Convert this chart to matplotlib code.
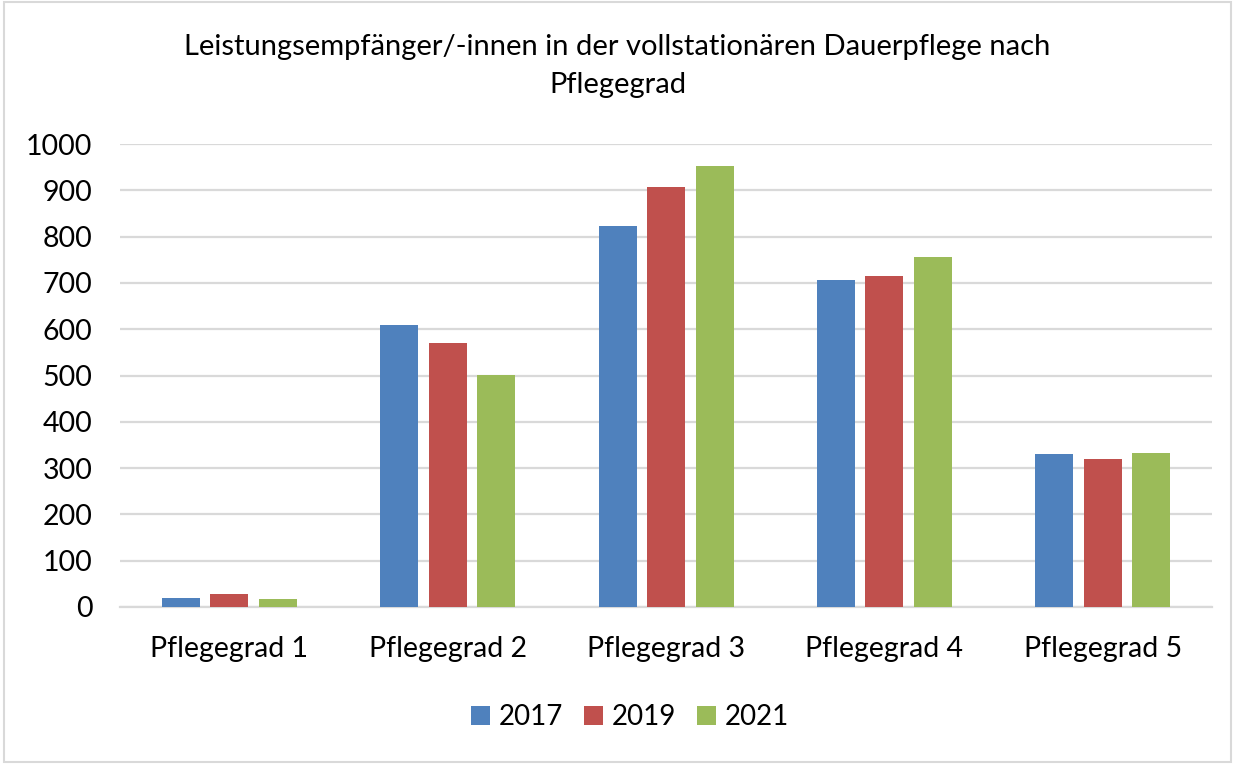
import matplotlib.pyplot as plt
import matplotlib.patches as mpatches
import numpy as np

categories = ['Pflegegrad 1', 'Pflegegrad 2', 'Pflegegrad 3', 'Pflegegrad 4', 'Pflegegrad 5']
years = ['2017', '2019', '2021']
v2017 = [19, 609, 823, 706, 330]
v2019 = [28, 570, 907, 715, 320]
v2021 = [17, 502, 953, 757, 332]
colors = ['#4f81bd', '#c0504d', '#9bbb59']

plt.rcParams['font.family'] = ['Lato', 'DejaVu Sans']

fig = plt.figure(figsize=(12.35, 7.64), dpi=100)
ax = fig.add_axes([0.0972, 0.2055, 0.8842, 0.606])

x = np.arange(len(categories))
width = 0.174
step = 0.222
for i, (vals, yr) in enumerate(zip([v2017, v2019, v2021], years)):
    ax.bar(x + (i - 1) * step, vals, width, color=colors[i], label=yr, zorder=3)

ax.set_xlim(-0.5, len(categories) - 0.5)
ax.set_ylim(0, 1000)
ax.set_yticks(range(0, 1001, 100))
ax.set_xticks(x)
ax.set_xticklabels(categories)
ax.tick_params(axis='both', length=0, labelsize=20.5, colors='#000000')
ax.tick_params(axis='x', pad=21)
ax.tick_params(axis='y', pad=20)
ax.grid(axis='y', color='#d9d9d9', linewidth=1.6, zorder=0)
for s in ['top', 'right', 'left']:
    ax.spines[s].set_visible(False)
ax.spines['bottom'].set_color('#d9d9d9')
ax.spines['bottom'].set_linewidth(1.6)

fig.text(0.5, 0.9136, 'Leistungsempfänger/-innen in der vollstationären Dauerpflege nach\nPflegegrad',
         ha='center', va='center', fontsize=21, linespacing=1.55)

fig.legend(loc='center', bbox_to_anchor=(0.51, 0.0615), ncol=3, frameon=False,
           fontsize=20, handlelength=0.7, handleheight=0.7, handletextpad=0.3,
           columnspacing=0.75)

fig.patches.append(mpatches.Rectangle((0.003, 0.003), 0.994, 0.994, transform=fig.transFigure,
                                      fill=False, edgecolor='#d9d9d9', linewidth=1.5))

fig.savefig('out.png', dpi=100)
